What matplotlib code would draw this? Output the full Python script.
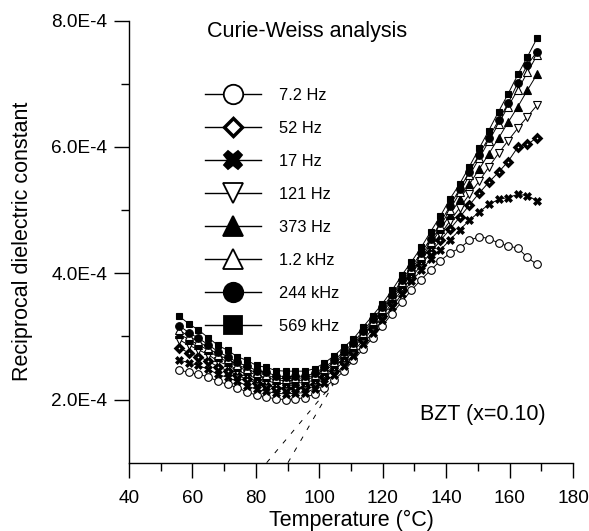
import numpy as np
import matplotlib
matplotlib.use("Agg")
import matplotlib.pyplot as plt
from matplotlib.lines import Line2D
from matplotlib.ticker import MultipleLocator, FuncFormatter

plt.rcParams['font.family'] = ['Liberation Sans', 'DejaVu Sans']

# temperature (degC)
T = [55.8, 58.9, 61.9, 65.0, 68.0, 71.1, 74.1, 77.2, 80.2, 83.3, 86.3, 89.4, 92.4,
     95.5, 98.5, 101.6, 104.6, 107.7, 110.7, 113.8, 116.8, 119.9, 122.9, 126.0, 129.0,
     132.1, 135.1, 138.2, 141.2, 144.3, 147.3, 150.4, 153.4, 156.5, 159.5, 162.6, 165.6, 168.6]

# reciprocal dielectric constant, in units of 1E-4
f72hz = [2.47, 2.43, 2.40, 2.36, 2.29, 2.24, 2.19, 2.12, 2.07, 2.04, 2.01, 2.00, 2.01,
         2.03, 2.09, 2.19, 2.31, 2.45, 2.62, 2.80, 2.98, 3.17, 3.36, 3.55, 3.73,
         3.90, 4.05, 4.20, 4.32, 4.40, 4.52, 4.58, 4.55, 4.48, 4.43, 4.40, 4.25, 4.14]
f52hz = [2.82, 2.74, 2.68, 2.61, 2.52, 2.46, 2.39, 2.32, 2.26, 2.23, 2.19, 2.18, 2.19,
         2.20, 2.25, 2.35, 2.46, 2.60, 2.76, 2.94, 3.12, 3.32, 3.53, 3.73, 3.93,
         4.13, 4.33, 4.52, 4.70, 4.89, 5.08, 5.27, 5.44, 5.60, 5.77, 6.00, 6.04, 6.15]
f17hz = [2.63, 2.58, 2.54, 2.48, 2.40, 2.35, 2.29, 2.22, 2.16, 2.13, 2.10, 2.09, 2.10,
         2.11, 2.17, 2.27, 2.39, 2.53, 2.69, 2.88, 3.06, 3.26, 3.46, 3.67, 3.87,
         4.05, 4.22, 4.37, 4.53, 4.69, 4.84, 4.97, 5.09, 5.17, 5.20, 5.25, 5.23, 5.15]
f121hz = [2.95, 2.86, 2.79, 2.71, 2.61, 2.54, 2.46, 2.40, 2.33, 2.30, 2.26, 2.25, 2.26,
          2.27, 2.31, 2.41, 2.52, 2.66, 2.81, 3.00, 3.18, 3.37, 3.58, 3.79, 3.99,
          4.20, 4.41, 4.62, 4.83, 5.04, 5.25, 5.46, 5.68, 5.90, 6.10, 6.30, 6.48, 6.66]
f373hz = [3.04, 2.95, 2.87, 2.78, 2.67, 2.60, 2.52, 2.46, 2.38, 2.35, 2.31, 2.30, 2.30,
          2.31, 2.36, 2.45, 2.56, 2.70, 2.85, 3.03, 3.21, 3.41, 3.61, 3.83, 4.03,
          4.24, 4.46, 4.70, 4.93, 5.17, 5.41, 5.65, 5.89, 6.14, 6.39, 6.64, 6.90, 7.15]
f12khz = [3.10, 3.00, 2.92, 2.82, 2.71, 2.64, 2.55, 2.49, 2.42, 2.39, 2.34, 2.33, 2.34,
          2.34, 2.39, 2.48, 2.59, 2.73, 2.87, 3.06, 3.24, 3.43, 3.64, 3.86, 4.06,
          4.28, 4.50, 4.75, 5.01, 5.28, 5.55, 5.82, 6.09, 6.37, 6.64, 6.91, 7.18, 7.45]
f244khz = [3.17, 3.06, 2.97, 2.87, 2.76, 2.68, 2.59, 2.53, 2.46, 2.43, 2.38, 2.36, 2.37,
           2.37, 2.42, 2.51, 2.62, 2.76, 2.90, 3.09, 3.27, 3.46, 3.66, 3.89, 4.10,
           4.32, 4.55, 4.80, 5.07, 5.34, 5.61, 5.88, 6.15, 6.42, 6.69, 7.02, 7.30, 7.51]
f569khz = [3.32, 3.20, 3.10, 2.98, 2.86, 2.78, 2.68, 2.62, 2.54, 2.51, 2.46, 2.45, 2.45,
           2.45, 2.49, 2.58, 2.69, 2.83, 2.96, 3.15, 3.33, 3.52, 3.73, 3.97, 4.18,
           4.41, 4.66, 4.91, 5.18, 5.42, 5.69, 5.98, 6.26, 6.56, 6.84, 7.15, 7.43, 7.72]

# Curie-Weiss extrapolations (dashed)
cw1_T = [83.4, 104.4]
cw1_y = [1.0, 2.26]
cw2_T = [90.1, 104.4]
cw2_y = [1.0, 2.24]

labels = ['7.2 Hz', '52 Hz', '17 Hz', '121 Hz', '373 Hz', '1.2 kHz', '244 kHz', '569 kHz']
series = [f72hz, f52hz, f17hz, f121hz, f373hz, f12khz, f244khz, f569khz]

# marker, face, size in plot, size in legend, edge width
styles = [('o', 'white', 5.5, 14, 0.8),
          ('D', 'white', 3.5, 9, 2.5),
          ('X', 'black', 6, 13, 0.5),
          ('v', 'white', 6, 14, 0.8),
          ('^', 'black', 6, 14, 0.8),
          ('^', 'white', 6, 14, 0.8),
          ('o', 'black', 5.5, 14, 0.8),
          ('s', 'black', 5, 13, 0.8)]

fig = plt.figure(figsize=(5.89, 5.31), dpi=100)
ax = fig.add_axes([0.219, 0.1286, 0.754, 0.8324])

for y, (m, fc, ms, lms, mew) in zip(series, styles):
    ax.plot(T, np.array(y) * 1e-4, color='black', lw=0.7, marker=m, mfc=fc,
            mec='black', ms=ms, mew=mew)

ax.plot(cw1_T, np.array(cw1_y) * 1e-4, color='black', lw=0.7, ls=(0, (5, 8)))
ax.plot(cw2_T, np.array(cw2_y) * 1e-4, color='black', lw=0.7, ls=(0, (5, 8)))

ax.set_xlim(40, 180)
ax.set_ylim(1e-4, 8e-4)
ax.xaxis.set_major_locator(MultipleLocator(20))
ax.xaxis.set_minor_locator(MultipleLocator(10))
ax.set_yticks([2e-4, 4e-4, 6e-4, 8e-4])
ax.set_yticks([3e-4, 5e-4, 7e-4], minor=True)


def sci(v, pos):
    mant, exp = f"{v:.1E}".split('E')
    return f"{mant}E{int(exp)}"


ax.yaxis.set_major_formatter(FuncFormatter(sci))

for s in ['top', 'right']:
    ax.spines[s].set_visible(False)
for s in ['left', 'bottom']:
    ax.spines[s].set_linewidth(1.0)
ax.tick_params(which='major', direction='out', length=10.5, width=1.0, labelsize=13.7)
ax.tick_params(axis='x', which='major', pad=9)
ax.tick_params(axis='y', which='major', pad=5)
ax.tick_params(which='minor', direction='out', length=5.8, width=1.0)

ax.set_xlabel('Temperature (°C)', fontsize=15.5, labelpad=2)
ax.set_ylabel('Reciprocal dielectric constant', fontsize=15.5, labelpad=13)

ax.text(0.175, 0.975, 'Curie-Weiss analysis', transform=ax.transAxes, fontsize=15.5, va='center')
ax.text(0.655, 0.108, 'BZT (x=0.10)', transform=ax.transAxes, fontsize=15.5, va='center')

handles = [Line2D([0], [0], color='black', lw=1.0, marker=m, mfc=fc, mec='black',
                  ms=lms, mew=(mew if m == 'D' else 1.3))
           for (m, fc, ms, lms, mew) in styles]
ax.legend(handles, labels, loc='upper left', bbox_to_anchor=(205 / 589, 1 - 88 / 531),
          bbox_transform=fig.transFigure, frameon=False, fontsize=11.75,
          handlelength=3.46, handletextpad=1.08, labelspacing=1.1, borderpad=0,
          borderaxespad=0)

fig.savefig('out.png', dpi=100)
